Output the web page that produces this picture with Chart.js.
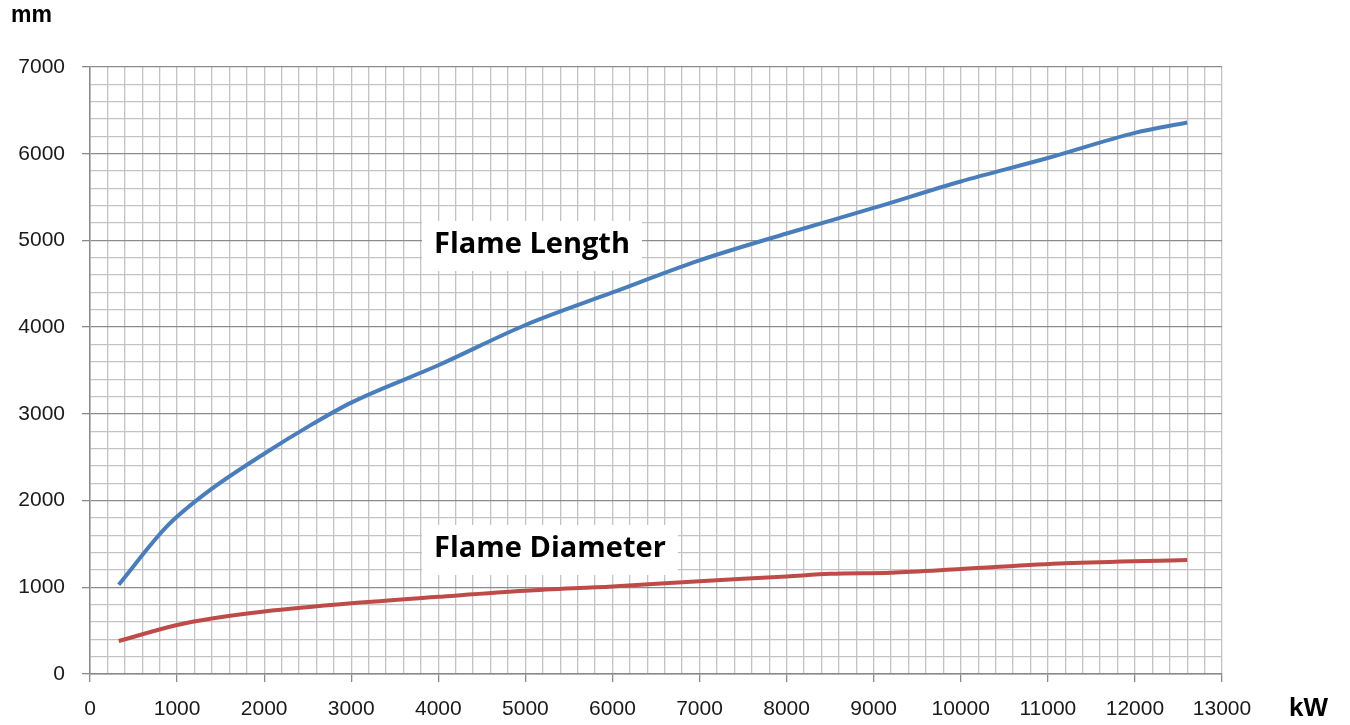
<!DOCTYPE html>
<html><head><meta charset="utf-8">
<script src="https://cdn.jsdelivr.net/npm/chart.js@4.4.1/dist/chart.umd.min.js"></script>
<style>html,body{margin:0;padding:0;background:#fff}#wrap{width:1350px;height:725px;position:relative}</style>
</head><body><div id="wrap"><canvas id="c"></canvas></div>
<script>
// ---- data ----
const lengthKW   = [330, 880, 1350, 2000, 2500, 3000, 4000, 5000, 6000, 7000, 8000, 9000, 10000, 11000, 12000, 12600];
const lengthMM   = [1030, 1700, 2100, 2540, 2850, 3130, 3560, 4025, 4400, 4770, 5080, 5375, 5680, 5950, 6240, 6360];
const diameterKW = [330, 1000, 1400, 2000, 3000, 4000, 5000, 6000, 7000, 8000, 8500, 9200, 10000, 11200, 12600];
const diameterMM = [380, 565, 640, 720, 815, 890, 960, 1010, 1070, 1125, 1155, 1168, 1210, 1277, 1315];
const xMin = 0, xMax = 13000, xMinor = 200, xMajor = 1000;
const yMin = 0, yMax = 7000, yMinor = 200, yMajor = 1000;
const seriesNames = ['Flame Length', 'Flame Diameter'];
const labelAnchorsKW = [5076, 5282];
const labelAnchorsMM = [4948, 1442];
const yUnit = 'mm', xUnit = 'kW';

const toPts = (xs, ys) => xs.map((x, i) => ({x, y: ys[i]}));
const TICK_FONT = {family: '"Liberation Sans", Arial, sans-serif', size: 21};

const textPlugin = {
  id: 'texts',
  beforeDatasetsDraw(chart) {
    const {ctx, scales: {x, y}} = chart;
    ctx.save();
    ctx.font = 'bold 29px "Open Sans", "Noto Sans", sans-serif';
    ctx.textAlign = 'center';
    ctx.textBaseline = 'middle';
    seriesNames.forEach((t, i) => {
      const px = x.getPixelForValue(labelAnchorsKW[i]);
      const py = y.getPixelForValue(labelAnchorsMM[i]);
      const w = ctx.measureText(t).width;
      ctx.fillStyle = '#fff';
      ctx.fillRect(px - w / 2 - 12, py - 24, w + 24, 50);
      ctx.fillStyle = '#000';
      ctx.fillText(t, px, py);
    });
    ctx.restore();
  },
  afterDraw(chart) {
    const {ctx} = chart;
    ctx.save();
    ctx.fillStyle = '#000';
    ctx.textBaseline = 'middle';
    ctx.textAlign = 'left';
    ctx.font = 'bold 23px "Liberation Sans", Arial, sans-serif';
    ctx.fillText(yUnit, 11, 16);
    ctx.font = 'bold 26px "Liberation Sans", Arial, sans-serif';
    ctx.fillText(xUnit, 1289, 709);
    ctx.restore();
  }
};

new Chart(document.getElementById('c'), {
  type: 'line',
  data: {
    datasets: [
      {label: seriesNames[0], data: toPts(lengthKW, lengthMM), borderColor: '#4A7EBB', borderWidth: 4, pointRadius: 0, cubicInterpolationMode: 'monotone', fill: false},
      {label: seriesNames[1], data: toPts(diameterKW, diameterMM), borderColor: '#BE4B48', borderWidth: 4, pointRadius: 0, cubicInterpolationMode: 'monotone', fill: false}
    ]
  },
  options: {
    responsive: true,
    maintainAspectRatio: false,
    animation: false,
    layout: {padding: {top: 67, right: 128, left: 0, bottom: 0}},
    plugins: {legend: {display: false}, tooltip: {enabled: false}},
    scales: {
      x: {
        type: 'linear', min: xMin, max: xMax,
        afterFit: s => { s.height = 51; },
        ticks: {stepSize: xMinor, autoSkip: false, maxRotation: 0, padding: 15, color: '#1a1a1a', font: TICK_FONT,
          callback: v => (v % xMajor === 0 ? String(v) : '')},
        grid: {color: '#c3c3c3', lineWidth: 1.3, tickLength: 8,
          tickColor: c => (c.tick && c.tick.value % xMajor === 0 ? '#8a8a8a' : 'rgba(0,0,0,0)')},
        border: {color: '#8a8a8a', width: 1.5}
      },
      y: {
        type: 'linear', min: yMin, max: yMax,
        afterFit: s => { s.width = 90; },
        ticks: {stepSize: yMinor, autoSkip: false, padding: 17, color: '#1a1a1a', font: TICK_FONT,
          callback: v => (v % yMajor === 0 ? String(v) : '')},
        grid: {lineWidth: 1.3, tickLength: 8,
          color: c => (c.tick && c.tick.value % yMajor === 0 ? '#8c8c8c' : '#c3c3c3'),
          tickColor: c => (c.tick && c.tick.value % yMajor === 0 ? '#8a8a8a' : 'rgba(0,0,0,0)')},
        border: {color: '#8a8a8a', width: 1.5}
      }
    }
  },
  plugins: [textPlugin]
});
</script></body></html>
